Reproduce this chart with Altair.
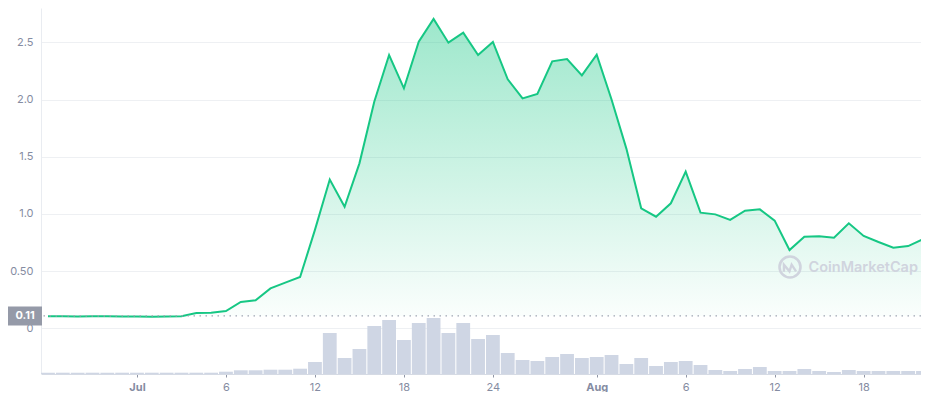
import altair as alt
import pandas as pd

# ---------------- data ----------------
day_index = list(range(60))
price = [0.105, 0.105, 0.104, 0.105, 0.105, 0.104, 0.103, 0.102, 0.103, 0.105,
         0.134, 0.137, 0.151, 0.230, 0.245, 0.349, 0.399, 0.448, 0.860, 1.300,
         1.063, 1.442, 1.981, 2.389, 2.098, 2.505, 2.704, 2.497, 2.584, 2.389,
         2.503, 2.177, 2.010, 2.048, 2.334, 2.354, 2.211, 2.392, 2.000, 1.571,
         1.049, 0.976, 1.093, 1.369, 1.011, 0.996, 0.947, 1.028, 1.040, 0.941,
         0.684, 0.801, 0.804, 0.792, 0.918, 0.807, 0.754, 0.705, 0.719, 0.778]
volume = [1.3, 1.3, 1.3, 1.3, 1.3, 1.3, 1.3, 1.3, 1.3, 1.3,
          1.3, 1.3, 2.3, 3.7, 3.7, 4.3, 4.3, 5.3, 12, 41,
          16, 25, 48, 54, 34, 51, 56, 41, 51, 35,
          39, 21, 14, 13, 17, 20, 16, 17, 19, 10,
          16, 8, 12, 13, 9, 4, 3, 5, 7, 3,
          3, 5, 3, 2, 4, 3, 3, 3, 3, 3]

x_tick_values = [6, 12, 18, 24, 30, 37, 43, 49, 55]
x_tick_labels = ["Jul", "6", "12", "18", "24", "Aug", "6", "12", "18"]
x_bold_labels = ["Jul", "Aug"]
y_tick_values = [0, 0.5, 1.0, 1.5, 2.0, 2.5]
y_tick_labels = ["0", "0.50", "1.0", "1.5", "2.0", "2.5"]
ref_price = 0.108
ref_label = "0.11"
watermark = "CoinMarketCap"

# ---------------- layout / style ----------------
W, H = 880, 366
PX_PER_DAY = 14.83
x_domain = [-0.472, -0.472 + W / PX_PER_DAY]
y_domain = [-0.3995, 2.80]
FONT = "Inter"
GREEN = "#16c784"
GRAY_TXT = "#858ca2"
VOL_COLOR = "#cfd6e4"
WM_COLOR = "#d0d4de"


def label_expr(values, labels):
    expr = "''"
    for v, l in reversed(list(zip(values, labels))):
        expr = f"abs(datum.value - {v}) < 0.001 ? '{l}' : {expr}"
    return expr


bold_test = " || ".join(
    f"datum.value == {v}" for v, l in zip(x_tick_values, x_tick_labels) if l in x_bold_labels
)

price_df = pd.DataFrame({"day": day_index, "price": price})
vol_df = pd.DataFrame({"day": day_index, "volume": volume})
ref_df = pd.DataFrame({"p": [ref_price], "label": [ref_label]})
half = 9.5 * (y_domain[1] - y_domain[0]) / H
box_df = pd.DataFrame({"lo": [ref_price - half], "hi": [ref_price + half]})
wm_df = pd.DataFrame({"t": [watermark]})

xscale = alt.Scale(domain=x_domain, nice=False, zero=False, padding=0)
yscale = alt.Scale(domain=y_domain, nice=False, zero=False, padding=0)

x_axis = alt.Axis(
    values=x_tick_values,
    labelExpr=label_expr(x_tick_values, x_tick_labels),
    grid=False,
    domainColor="#d5dae4",
    tickColor="#8f95a5",
    tickSize=3,
    labelColor=GRAY_TXT,
    labelFont=FONT,
    labelFontSize=11,
    labelFontWeight=alt.condition(bold_test, alt.value("bold"), alt.value("normal")),
    labelPadding=4,
    labelFlush=False,
    title=None,
)
y_axis = alt.Axis(
    orient="left",
    values=y_tick_values,
    labelExpr=label_expr(y_tick_values, y_tick_labels),
    grid=True,
    gridColor="#eef0f3",
    ticks=False,
    domainColor="#e9ecf1",
    labelColor=GRAY_TXT,
    labelFont=FONT,
    labelFontSize=11,
    labelPadding=8,
    title=None,
)

X = alt.X("day:Q", scale=xscale, axis=x_axis)

vol_layer = alt.Chart(vol_df).mark_bar(width=13.8, color=VOL_COLOR, clip=True).encode(
    x=X,
    y=alt.Y("volume:Q", scale=alt.Scale(domain=[0, max(volume) * H / 56], nice=False, padding=0),
            axis=None),
)

gradient = alt.Gradient(
    gradient="linear",
    stops=[
        alt.GradientStop(color="rgba(22,199,132,0.02)", offset=0),
        alt.GradientStop(color="rgba(22,199,132,0.42)", offset=1),
    ],
    x1=1, x2=1, y1=1, y2=0,
)

area_layer = alt.Chart(price_df).mark_area(color=gradient, clip=True).encode(
    x=X,
    y=alt.Y("price:Q", scale=yscale, axis=y_axis),
    y2=alt.datum(ref_price),
)

line_layer = alt.Chart(price_df).mark_line(color=GREEN, strokeWidth=2, clip=True).encode(
    x=X,
    y=alt.Y("price:Q", scale=yscale, axis=None),
)

rule_layer = alt.Chart(ref_df).mark_rule(
    color="#9fa5b3", strokeDash=[1.5, 4.5], strokeWidth=1.2
).encode(y=alt.Y("p:Q", scale=yscale, axis=None))

box_layer = alt.Chart(box_df).mark_rect(color="#959aa8").encode(
    x=alt.value(-33),
    x2=alt.value(1),
    y=alt.Y("lo:Q", scale=yscale, axis=None),
    y2="hi:Q",
)

box_text = alt.Chart(ref_df).mark_text(
    color="white", font=FONT, fontWeight="bold", fontSize=11, align="center", baseline="middle"
).encode(
    x=alt.value(-16),
    y=alt.Y("p:Q", scale=yscale, axis=None),
    text="label:N",
)

logo_circle = alt.Chart(wm_df).mark_point(
    shape="circle", size=440, filled=False, stroke=WM_COLOR, strokeWidth=2.6, opacity=1
).encode(x=alt.value(749), y=alt.value(259))

logo_m = alt.Chart(wm_df).mark_point(
    shape="M-0.55,0.35L-0.55,-0.3L-0.05,0.3L0.15,-0.3L0.55,0.3",
    size=484, filled=False, stroke=WM_COLOR, strokeWidth=2.4, opacity=1,
).encode(x=alt.value(749), y=alt.value(260))

wm_text = alt.Chart(wm_df).mark_text(
    color=WM_COLOR, font=FONT, fontWeight=600, fontSize=14.5, align="right", baseline="middle"
).encode(x=alt.value(877), y=alt.value(260), text="t:N")

chart = alt.layer(
    vol_layer, area_layer, line_layer, rule_layer, box_layer, box_text,
    logo_circle, logo_m, wm_text,
).resolve_scale(y="independent").properties(
    width=W,
    height=H,
    padding={"left": 33, "top": 0, "right": 0, "bottom": 18},
    autosize=alt.AutoSizeParams(type="none"),
    background="white",
).configure_view(strokeWidth=0)

chart.save("out.html", embed_options={"renderer": "svg", "actions": False})
